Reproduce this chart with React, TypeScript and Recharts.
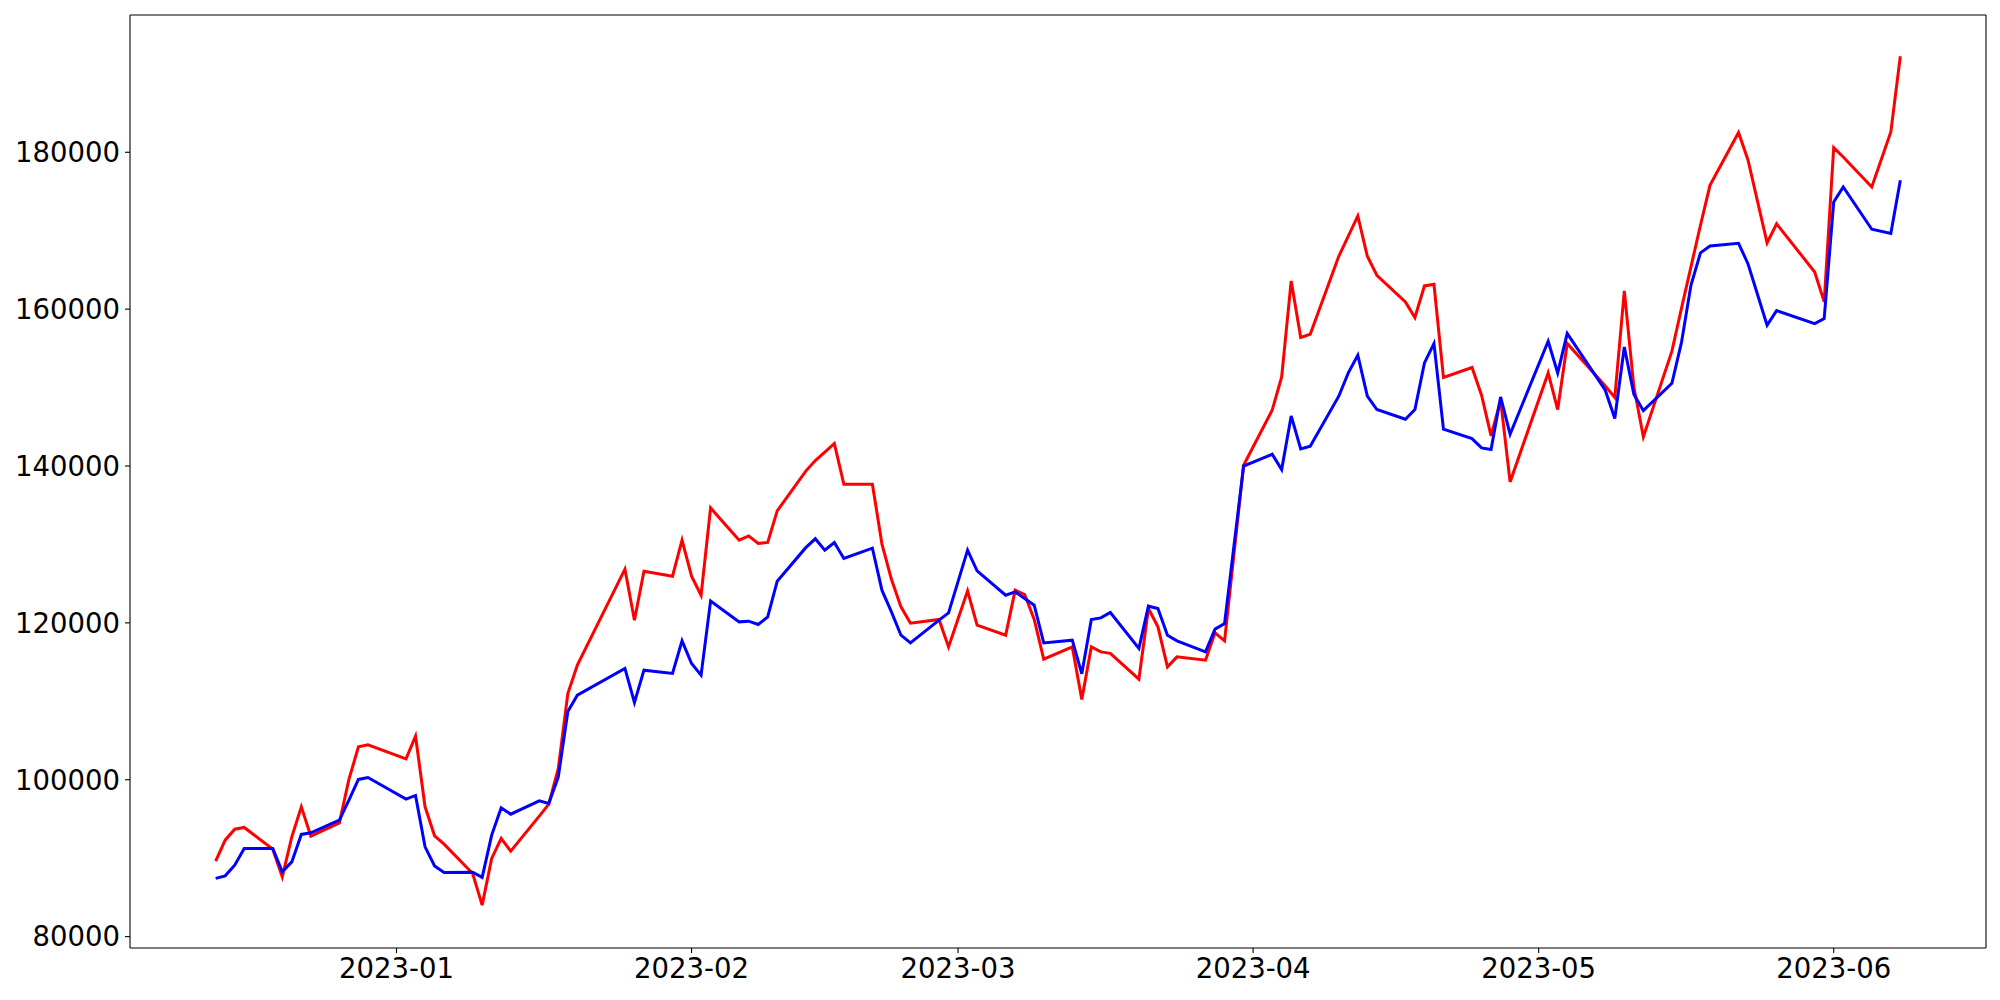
import React from 'react';
import { LineChart, Line, XAxis, YAxis } from 'recharts';

const dates = [
  '2022-12-13','2022-12-14','2022-12-15','2022-12-16','2022-12-19','2022-12-20','2022-12-21','2022-12-22','2022-12-23','2022-12-26','2022-12-27','2022-12-28','2022-12-29',
  '2023-01-02','2023-01-03','2023-01-04','2023-01-05','2023-01-06','2023-01-09','2023-01-10','2023-01-11','2023-01-12','2023-01-13','2023-01-16','2023-01-17','2023-01-18','2023-01-19','2023-01-20','2023-01-25','2023-01-26','2023-01-27','2023-01-30','2023-01-31',
  '2023-02-01','2023-02-02','2023-02-03','2023-02-06','2023-02-07','2023-02-08','2023-02-09','2023-02-10','2023-02-13','2023-02-14','2023-02-15','2023-02-16','2023-02-17','2023-02-20','2023-02-21','2023-02-22','2023-02-23','2023-02-24','2023-02-27','2023-02-28',
  '2023-03-02','2023-03-03','2023-03-06','2023-03-07','2023-03-08','2023-03-09','2023-03-10','2023-03-13','2023-03-14','2023-03-15','2023-03-16','2023-03-17','2023-03-20','2023-03-21','2023-03-22','2023-03-23','2023-03-24','2023-03-27','2023-03-28','2023-03-29','2023-03-31',
  '2023-04-03','2023-04-04','2023-04-05','2023-04-06','2023-04-07','2023-04-10','2023-04-11','2023-04-12','2023-04-13','2023-04-14','2023-04-17','2023-04-18','2023-04-19','2023-04-20','2023-04-21','2023-04-24','2023-04-25','2023-04-26','2023-04-27','2023-04-28',
  '2023-05-02','2023-05-03','2023-05-04','2023-05-08','2023-05-09','2023-05-10','2023-05-11','2023-05-12','2023-05-15','2023-05-16','2023-05-17','2023-05-18','2023-05-19','2023-05-22','2023-05-23','2023-05-25','2023-05-26','2023-05-30','2023-05-31',
  '2023-06-01','2023-06-02','2023-06-05','2023-06-07','2023-06-08',
];

const redSeries = [
  89620, 92300, 93700, 93920, 91150, 87620, 92720, 96550, 92810, 94500, 100040, 104190, 104450,
  102660, 105560, 96550, 92850, 91790, 88050, 84015, 89970, 92520, 90900, 95360, 96890, 101440, 111000, 114610, 126850, 120340, 126590, 125950, 130540,
  125950, 123530, 134660, 130540, 131090, 130120, 130250, 134280, 139350, 140700, 141760, 142870, 137680, 137680, 130080, 125550, 122040, 119960, 120430, 116940,
  124080, 119710, 118430, 124170, 123620, 120430, 115370, 116940, 110240, 116940, 116300, 116120, 112820, 121830, 119490, 114390, 115670, 115250, 118730, 117710, 140100,
  147110, 151360, 163600, 156380, 156800, 166740, 169300, 171880, 166740, 164320, 160920, 158930, 162960, 163170, 151280, 152560, 149030, 143840, 148390, 137970,
  151870, 147200, 155620, 150200, 148730, 162320, 150090, 143710, 154650, 160080, 165380, 170700, 175790, 182510, 178980, 168440, 170870, 164740, 160920,
  180590, 179400, 175580, 182590, 192240,
];

const blueSeries = [
  87420, 87750, 89110, 91240, 91240, 88260, 89530, 93030, 93230, 94850, 97400, 100040, 100290,
  97530, 98000, 91450, 89020, 88180, 88220, 87550, 92940, 96420, 95610, 97310, 96980, 100370, 108700, 110780, 114190, 109850, 113970, 113550, 117710,
  114820, 113330, 122800, 120130, 120220, 119790, 120770, 125320, 129590, 130720, 129270, 130250, 128210, 129520, 124170, 121400, 118430, 117450, 120350, 121280,
  129270, 126630, 123530, 123950, 123110, 122260, 117450, 117790, 113500, 120430, 120640, 121330, 116740, 122130, 121830, 118430, 117710, 116300, 119200, 119920, 139980,
  141500, 139550, 146390, 142180, 142530, 148900, 151870, 154120, 148900, 147200, 145970, 147200, 153140, 155620, 144690, 143500, 142310, 142100, 148810, 144050,
  155910, 151870, 156890, 149660, 146050, 155180, 149150, 147060, 150550, 155720, 163050, 167170, 168060, 168400, 165760, 157950, 159810, 158160, 158800,
  173660, 175580, 170180, 169640, 176430,
];

const xTickLabels = ['2023-01', '2023-02', '2023-03', '2023-04', '2023-05', '2023-06'];
const yTicks = [80000, 100000, 120000, 140000, 160000, 180000];

const BASE = Date.UTC(2023, 0, 1);
const toDay = (s: string) => (Date.parse(s + 'T00:00:00Z') - BASE) / 86400000;

const data = dates.map((d, i) => ({ x: toDay(d), red: redSeries[i], blue: blueSeries[i] }));
const xTicks = xTickLabels.map((l) => toDay(l + '-01'));
const labelFor = (v: number) => {
  const i = xTicks.indexOf(v);
  return i >= 0 ? xTickLabels[i] : '';
};

const X_DOMAIN: [number, number] = [-28.0, 167.0];
const Y_DOMAIN: [number, number] = [78550, 197500];

const tickStyle = { fontFamily: 'DejaVu Sans', fontSize: 27.5, fill: '#000' };
const lineStyle = { stroke: '#000', strokeWidth: 1.1 };

export default function App() {
  return (
    <div style={{ position: 'absolute', left: 0, top: 0, width: 2000, height: 1000, background: '#fff' }}>
      <LineChart
        width={2000}
        height={1000}
        data={data}
        margin={{ top: 14, right: 13, bottom: 0, left: 0 }}
      >
        <XAxis
          dataKey="x"
          type="number"
          domain={X_DOMAIN}
          ticks={xTicks}
          tickFormatter={labelFor}
          tick={tickStyle}
          tickSize={5}
          tickMargin={5}
          axisLine={lineStyle}
          tickLine={lineStyle}
          allowDataOverflow
          height={52}
        />
        <XAxis
          xAxisId="top"
          orientation="top"
          dataKey="x"
          type="number"
          domain={X_DOMAIN}
          tick={false}
          tickLine={false}
          axisLine={lineStyle}
          allowDataOverflow
          height={1}
        />
        <YAxis
          type="number"
          domain={Y_DOMAIN}
          ticks={yTicks}
          tick={tickStyle}
          tickSize={5}
          tickMargin={5}
          width={130}
          axisLine={lineStyle}
          tickLine={lineStyle}
          allowDataOverflow
        />
        <YAxis
          yAxisId="right"
          orientation="right"
          type="number"
          domain={Y_DOMAIN}
          tick={false}
          tickLine={false}
          axisLine={lineStyle}
          allowDataOverflow
          width={1}
        />
        <Line
          type="linear"
          dataKey="red"
          stroke="#ff0000"
          strokeWidth={3}
          dot={false}
          isAnimationActive={false}
        />
        <Line
          type="linear"
          dataKey="blue"
          stroke="#0000ff"
          strokeWidth={3}
          dot={false}
          isAnimationActive={false}
        />
      </LineChart>
    </div>
  );
}
